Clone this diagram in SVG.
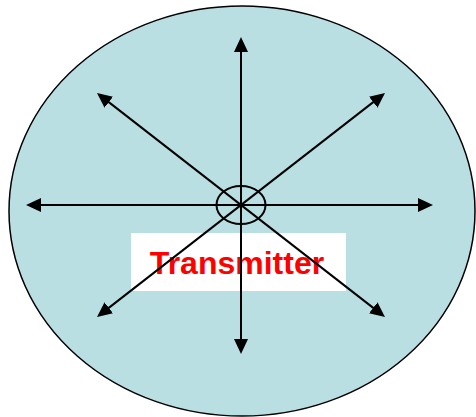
<svg xmlns="http://www.w3.org/2000/svg" width="476" height="417" viewBox="0 0 476 417">
<defs>
<style>
.ray{stroke:#000;stroke-width:2;fill:none;marker-start:url(#ah);marker-end:url(#ah)}
.lbl{font-family:"Liberation Sans",Arial,sans-serif;font-weight:bold;font-size:32px;fill:#FF0000}
</style>
<marker id="ah" viewBox="0 0 15 14" refX="7" refY="7" markerWidth="15" markerHeight="14" markerUnits="userSpaceOnUse" orient="auto-start-reverse">
<path d="M0,0 L15,7 L0,14 Z" fill="#000"/>
</marker>
</defs>
<rect width="476" height="417" fill="#fff"/>
<g id="coverage">
<ellipse cx="242" cy="211" rx="233" ry="205" fill="#B9DFE3" stroke="#000" stroke-width="1.5"/>
</g>
<g id="label">
<rect x="131" y="233" width="215" height="58" fill="#fff"/>
<text class="lbl" x="237" y="274" text-anchor="middle">Transmitter</text>
</g>
<g id="connectors">
<line class="ray" x1="241" y1="45" x2="241" y2="346"/>
<line class="ray" x1="34" y1="205" x2="425" y2="205"/>
<line class="ray" x1="103.3" y1="97.9" x2="378.7" y2="312.1"/>
<line class="ray" x1="378.7" y1="97.9" x2="103.3" y2="312.1"/>
</g>
<g id="transmitter">
<ellipse cx="241" cy="205" rx="24.5" ry="19" fill="none" stroke="#000" stroke-width="2"/>
</g>
</svg>
